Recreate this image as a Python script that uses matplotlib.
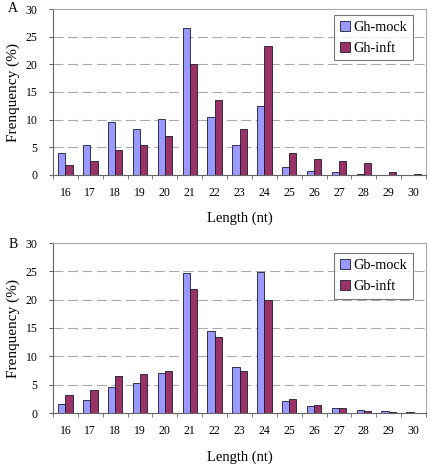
import matplotlib
matplotlib.use("Agg")
import matplotlib.pyplot as plt
import numpy as np

lengths = [16, 17, 18, 19, 20, 21, 22, 23, 24, 25, 26, 27, 28, 29, 30]
gh_mock = [4.05, 5.5, 9.5, 8.3, 10.1, 26.5, 10.5, 5.45, 12.45, 1.4, 0.67, 0.5, 0.2, 0.0, 0.0]
gh_inft = [1.75, 2.55, 4.5, 5.45, 7.0, 20.1, 13.5, 8.3, 23.4, 3.9, 2.96, 2.6, 2.2, 0.6, 0.25]
gb_mock = [1.65, 2.35, 4.65, 5.35, 7.05, 24.7, 14.5, 8.2, 24.9, 2.2, 1.25, 0.95, 0.6, 0.3, 0.2]
gb_inft = [3.1, 4.1, 6.6, 6.95, 7.4, 21.8, 13.5, 7.5, 19.9, 2.5, 1.35, 0.8, 0.3, 0.1, 0.0]

plt.rcParams['font.family'] = ['Liberation Serif', 'DejaVu Serif']

W, H = 430, 466
fig = plt.figure(figsize=(W / 100, H / 100), dpi=100)

c_mock = '#9999FF'
c_inft = '#993366'
edge = '#1a1a33'


def panel(rect, mock, inft, names, letter, letter_xy, xlabel_y, leg_top):
    ax = fig.add_axes(rect)
    x = np.arange(len(lengths))
    bw = 0.29
    ax.bar(x - bw / 2, mock, bw, color=c_mock, edgecolor=edge, linewidth=0.6, label=names[0], zorder=3)
    ax.bar(x + bw / 2, inft, bw, color=c_inft, edgecolor=edge, linewidth=0.6, label=names[1], zorder=3)
    ax.set_xlim(-0.5, len(lengths) - 0.5)
    ax.set_ylim(0, 30)
    ax.set_yticks([0, 5, 10, 15, 20, 25, 30])
    ax.set_xticks(x)
    ax.set_xticklabels([str(v) for v in lengths], fontsize=8.5)
    ax.tick_params(axis='x', length=0, pad=9)
    ax.set_xticks(np.arange(-0.5, len(lengths) + 0.5, 1), minor=True)
    ax.tick_params(axis='x', which='minor', length=3, direction='out', color='#666666')
    ax.tick_params(axis='y', labelsize=8.5, length=3, color='#666666', pad=8)
    for yv in [5, 10, 15, 20, 25]:
        ax.axhline(yv, color='#aaaaaa', linestyle=(0, (9, 4)), linewidth=0.8, zorder=1)
    for s in ['top', 'right']:
        ax.spines[s].set_color('#aaaaaa')
        ax.spines[s].set_linewidth(0.8)
    for s in ['left', 'bottom']:
        ax.spines[s].set_color('#666666')
        ax.spines[s].set_linewidth(0.8)
    ax.set_ylabel('Frenquency (%)', fontsize=11, labelpad=4)
    leg = ax.legend(loc='upper right', bbox_to_anchor=(0.965, leg_top), borderaxespad=0, fontsize=10.3,
                    frameon=True, fancybox=False, handlelength=0.7, handleheight=0.7,
                    handletextpad=0.25, borderpad=0.4, labelspacing=0.55, edgecolor='#555555')
    leg.get_frame().set_linewidth(0.8)
    fig.text(letter_xy[0] / W, 1 - letter_xy[1] / H, letter, fontsize=10, ha='left', va='center')
    fig.text((53 + 426) / 2 / W, 1 - xlabel_y / H, 'Length (nt)', fontsize=10.5, ha='center', va='center')
    return ax


panel([53 / W, 1 - 175 / H, 373 / W, 166 / H], gh_mock, gh_inft, ['Gh-mock', 'Gh-inft'], 'A', (8, 8), 218, 0.964)
panel([53 / W, 1 - 413 / H, 373 / W, 170 / H], gb_mock, gb_inft, ['Gb-mock', 'Gb-inft'], 'B', (9, 245), 457, 0.94)

fig.savefig('out.png', dpi=100)
